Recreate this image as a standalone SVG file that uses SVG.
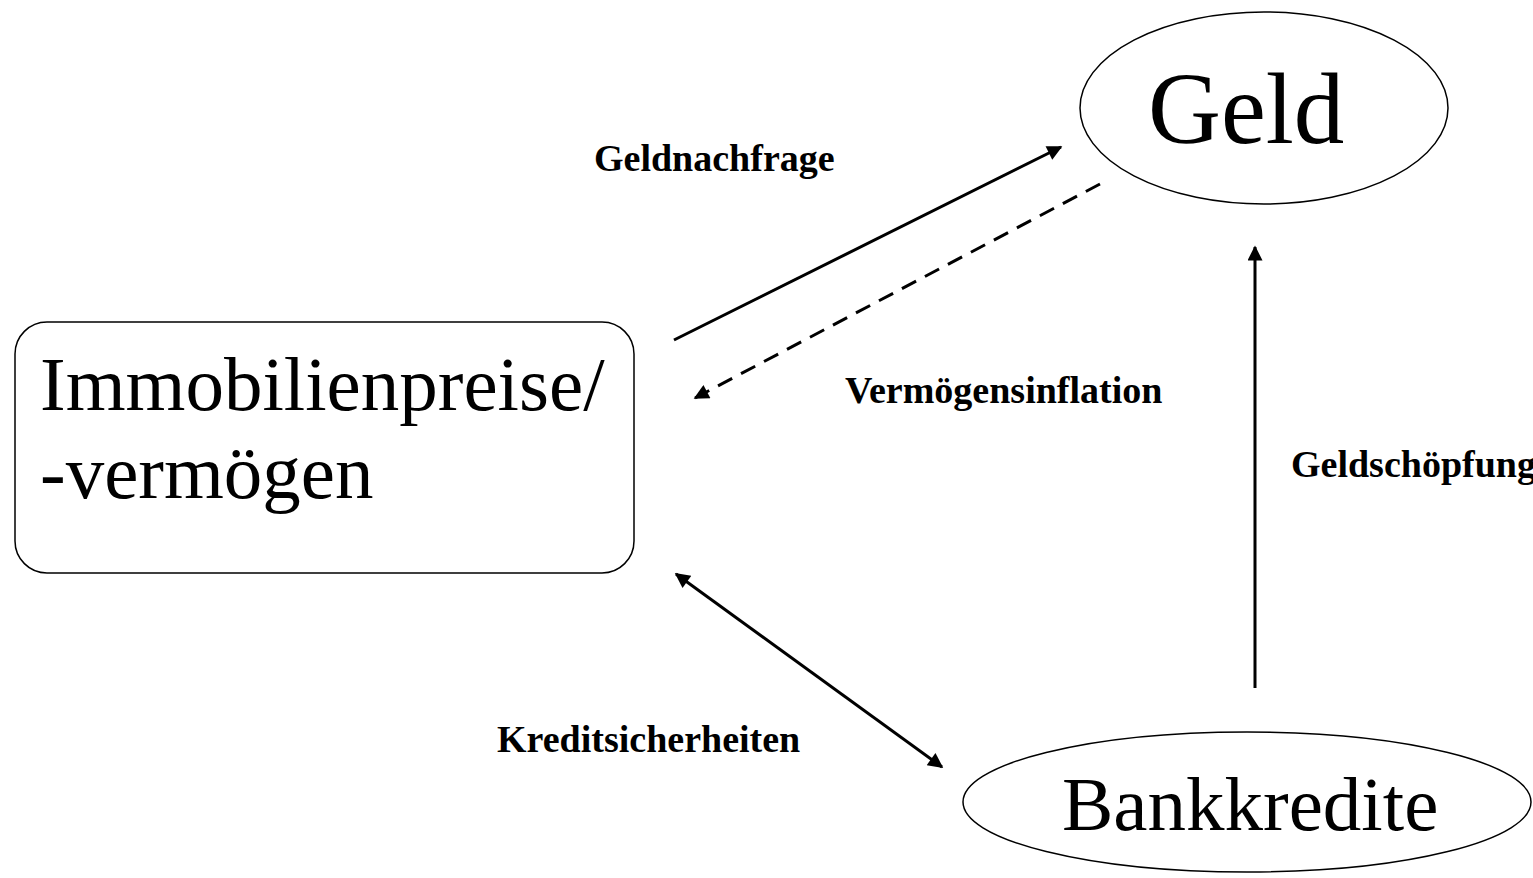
<svg xmlns="http://www.w3.org/2000/svg" width="1533" height="878" viewBox="0 0 1533 878">
<style>
.node{fill:#fff;stroke:#000;stroke-width:1.5}
.big{font-family:"Liberation Serif","Times New Roman",serif;fill:#000}
.lbl{font-family:"Liberation Serif","Times New Roman",serif;font-weight:bold;font-size:38px;fill:#000}
.ln{stroke:#000;stroke-width:3;fill:none}
</style>
<defs>
<marker id="ah" viewBox="0 0 10 10" refX="9" refY="5" markerWidth="6" markerHeight="5" markerUnits="strokeWidth" orient="auto-start-reverse">
<path d="M0,0 L10,5 L0,10 z" fill="#000"/>
</marker>
</defs>
<rect width="1533" height="878" fill="#fff"/>
<g id="node-immobilien">
<rect class="node" x="15" y="322" width="619" height="251" rx="32"/>
<text class="big" x="40" y="410" font-size="77">Immobilienpreise/</text>
<text class="big" x="40" y="498" font-size="77">-vermögen</text>
</g>
<g id="node-geld">
<ellipse class="node" cx="1264" cy="108" rx="184" ry="96"/>
<text class="big" x="1148" y="143" font-size="101">Geld</text>
</g>
<g id="node-bankkredite">
<ellipse class="node" cx="1247" cy="802" rx="284" ry="70"/>
<text class="big" x="1062" y="830" font-size="77">Bankkredite</text>
</g>
<g id="connectors">
<line class="ln" x1="674" y1="340" x2="1061" y2="147" marker-end="url(#ah)"/>
<line class="ln" x1="1100" y1="184" x2="695" y2="398" stroke-dasharray="16,10" marker-end="url(#ah)"/>
<line class="ln" x1="676" y1="574" x2="942" y2="767" marker-start="url(#ah)" marker-end="url(#ah)"/>
<line class="ln" x1="1255" y1="688" x2="1255" y2="247" marker-end="url(#ah)"/>
</g>
<g id="labels">
<text class="lbl" x="594" y="171">Geldnachfrage</text>
<text class="lbl" x="845" y="403">Vermögensinflation</text>
<text class="lbl" x="1291" y="477">Geldschöpfung</text>
<text class="lbl" x="497" y="752">Kreditsicherheiten</text>
</g>
</svg>
